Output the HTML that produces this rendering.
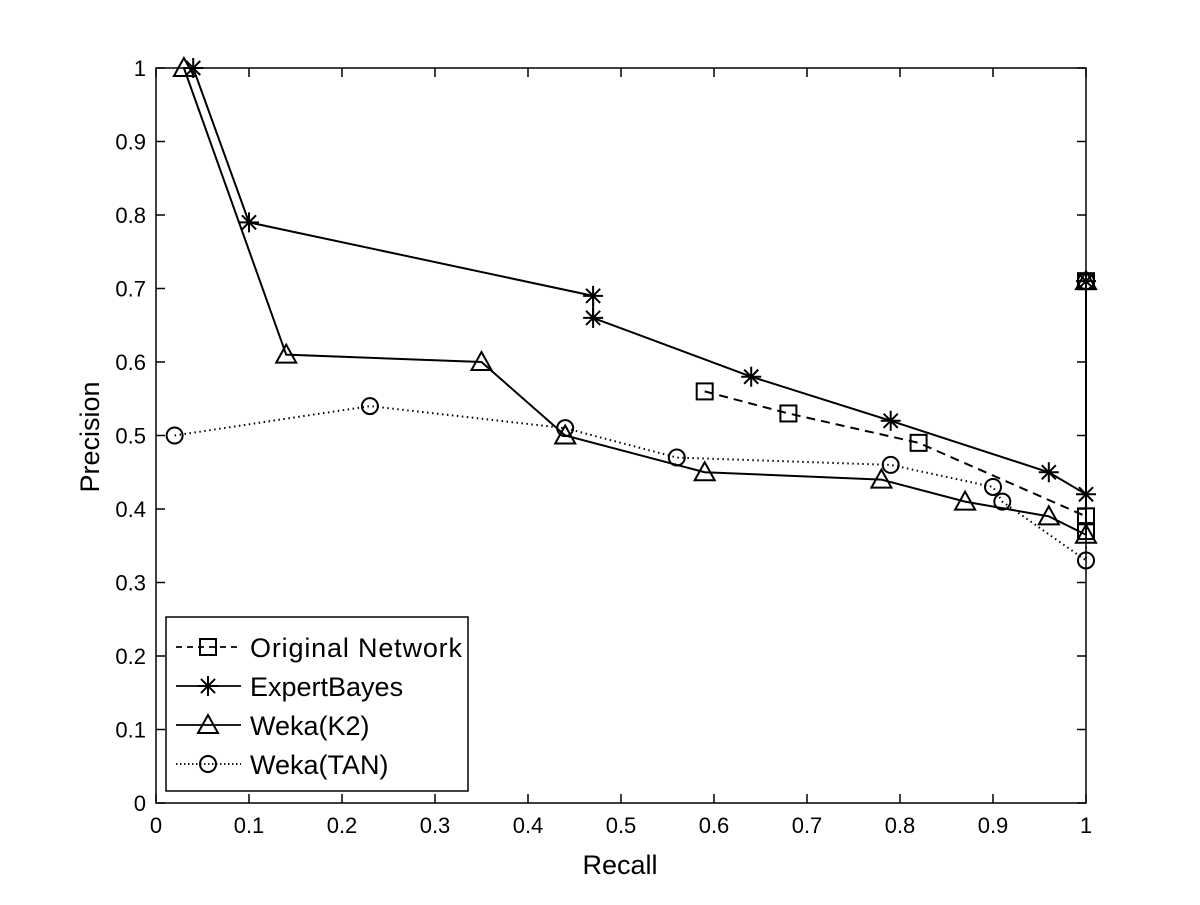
<!DOCTYPE html>
<html><head><meta charset="utf-8"><style>
body{margin:0;background:#fff}
svg text{font-family:"Liberation Sans",Arial,sans-serif;fill:#000}
</style></head><body>
<svg id="chart" width="1200" height="900">
<rect width="1200" height="900" fill="#fff"/>
<g id="axes"></g><g id="series"></g><g id="legend"></g>
</svg>
<script>
const xTicks=[0,0.1,0.2,0.3,0.4,0.5,0.6,0.7,0.8,0.9,1];
const yTicks=[0,0.1,0.2,0.3,0.4,0.5,0.6,0.7,0.8,0.9,1];
const seriesNames=["Original Network","ExpertBayes","Weka(K2)","Weka(TAN)"];
const origX=[0.59,0.68,0.82,1,1,1];
const origY=[0.56,0.53,0.49,0.39,0.37,0.71];
const expX=[0.04,0.1,0.47,0.47,0.64,0.79,0.96,1,1];
const expY=[1,0.79,0.69,0.66,0.58,0.52,0.45,0.42,0.71];
const k2X=[0.03,0.14,0.35,0.44,0.59,0.78,0.87,0.96,1,1];
const k2Y=[1,0.61,0.60,0.50,0.45,0.44,0.41,0.39,0.365,0.71];
const tanX=[0.02,0.23,0.44,0.56,0.79,0.90,0.91,1,1];
const tanY=[0.50,0.54,0.51,0.47,0.46,0.43,0.41,0.33,0.71];

const NS="http://www.w3.org/2000/svg";
const L=156,R=1086,T=68,B=803;
const sx=v=>L+v*(R-L), sy=v=>B-v*(B-T);
function mk(tag,attrs,parent){const e=document.createElementNS(NS,tag);for(const k in attrs)e.setAttribute(k,attrs[k]);parent.appendChild(e);return e;}
const axes=document.getElementById('axes'),ser=document.getElementById('series'),leg=document.getElementById('legend');
const frame=mk('rect',{x:L,y:T,width:R-L,height:B-T,fill:'none',stroke:'#000','stroke-width':1.5},axes);


xTicks.forEach(v=>{
  const x=sx(v);
  mk('line',{x1:x,y1:B,x2:x,y2:B-9,stroke:'#000','stroke-width':1.5},axes);
  mk('line',{x1:x,y1:T,x2:x,y2:T+9,stroke:'#000','stroke-width':1.5},axes);
  const t=mk('text',{x:x,y:B+30,'font-size':22,'text-anchor':'middle'},axes);t.textContent=String(v);
  
  
});
yTicks.forEach(v=>{
  const y=sy(v);
  mk('line',{x1:L,y1:y,x2:L+9,y2:y,stroke:'#000','stroke-width':1.5},axes);
  mk('line',{x1:R,y1:y,x2:R-9,y2:y,stroke:'#000','stroke-width':1.5},axes);
  const t=mk('text',{x:L-10,y:y+8,'font-size':22,'text-anchor':'end'},axes);t.textContent=String(v);
  
  
});
const xt=mk('text',{x:620,y:874,'font-size':27,'text-anchor':'middle'},axes);xt.textContent='Recall';


const yt=mk('text',{x:99,y:437,'font-size':27,'text-anchor':'middle',transform:'rotate(-90 99 437)'},axes);yt.textContent='Precision';



function marker(type,x,y,g){
  const a={fill:'none',stroke:'#000','stroke-width':2};
  if(type==='sq'){mk('rect',Object.assign({x:x-8,y:y-8,width:16,height:16},a),g);}
  else if(type==='tri'){mk('polygon',Object.assign({points:`${x},${y-10} ${x-10},${y+8} ${x+10},${y+8}`},a),g);}
  else if(type==='circ'){mk('circle',Object.assign({cx:x,cy:y,r:8},a),g);}
  else{for(let k=0;k<4;k++){const an=k*Math.PI/4;mk('line',{x1:x-10*Math.cos(an),y1:y-10*Math.sin(an),x2:x+10*Math.cos(an),y2:y+10*Math.sin(an),stroke:'#000','stroke-width':2},g);}}
}
const defs=[
 {xs:origX,ys:origY,m:'sq',dash:'9,6',name:'series-original-network'},
 {xs:expX,ys:expY,m:'star',dash:'',name:'series-expertbayes'},
 {xs:k2X,ys:k2Y,m:'tri',dash:'',name:'series-weka-k2'},
 {xs:tanX,ys:tanY,m:'circ',dash:'1.5,3.5',name:'series-weka-tan'}];
defs.forEach((d,i)=>{
  const g=mk('g',{},ser);
  
  
  const pts=d.xs.map((v,j)=>sx(v)+','+sy(d.ys[j])).join(' ');
  const a={points:pts,fill:'none',stroke:'#000','stroke-width':2};
  if(d.dash)a['stroke-dasharray']=d.dash;
  mk('polyline',a,g);
  d.xs.forEach((v,j)=>marker(d.m,sx(v),sy(d.ys[j]),g));
  const ly=[647,686,725,764][i];
  const lg=mk('g',{},leg);
  
  
  const la={x1:176,y1:ly,x2:241,y2:ly,stroke:'#000','stroke-width':1.8};
  if(d.dash)la['stroke-dasharray']=d.dash==='9,6'?'6,5':'1.5,2.5';
  mk('line',la,lg);
  marker(d.m,208,ly,lg);
  const t=mk('text',{x:250,y:ly+10,'font-size':27},lg);t.textContent=seriesNames[i];
  if(i===0)t.setAttribute('textLength',212);
});
const lb=mk('rect',{x:166,y:617,width:302,height:174,fill:'none',stroke:'#000','stroke-width':1.5},leg);


leg.insertBefore(mk('rect',{x:166,y:617,width:302,height:174,fill:'#fff'},leg),leg.firstChild);
</script>
</body></html>
